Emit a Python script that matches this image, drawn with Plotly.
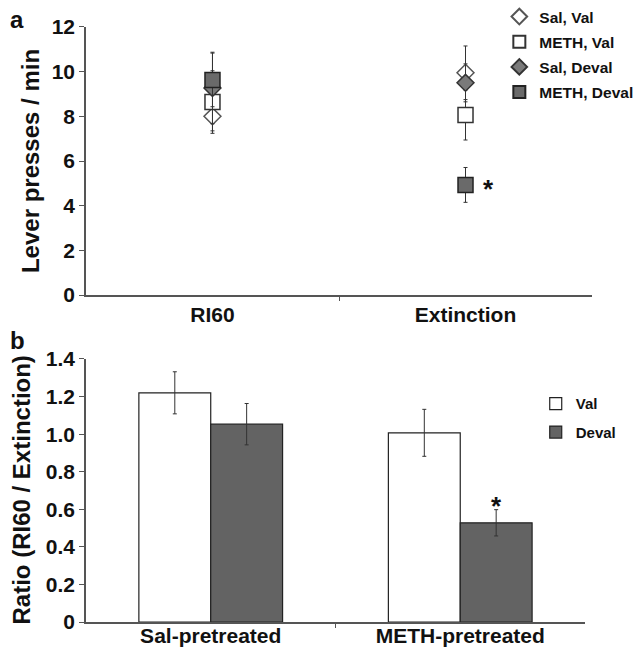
import plotly.graph_objects as go

# ---- Panel a data ----
phases = ["RI60", "Extinction"]
phase_x = [0, 1]
sal_val = [8.0, 9.95]
sal_val_err = [0.65, 1.2]
meth_val = [8.64, 8.06]
meth_val_err = [1.4, 1.12]
sal_deval = [9.27, 9.5]
sal_deval_err = [1.6, 0.85]
meth_deval = [9.63, 4.93]
meth_deval_err = [1.2, 0.78]

# ---- Panel b data ----
groups = ["Sal-pretreated", "METH-pretreated"]
group_x = [0, 1]
ratio_val = [1.22, 1.007]
ratio_val_err = [0.112, 0.125]
ratio_deval = [1.053, 0.528]
ratio_deval_err = [0.11, 0.07]

FONT = "Arial, Liberation Sans, sans-serif"
AXC = "#555555"

fig = go.Figure()

def err(vals):
    return dict(type="data", array=vals, color="#333333", thickness=1, width=2)

series_a = [
    ("Sal, Val", sal_val, sal_val_err, "diamond", 13, "white", "#555555"),
    ("METH, Val", meth_val, meth_val_err, "square", 15, "white", "#333333"),
    ("Sal, Deval", sal_deval, sal_deval_err, "diamond", 13, "#7a7a7a", "#333333"),
    ("METH, Deval", meth_deval, meth_deval_err, "square", 15, "#6a6a6a", "#222222"),
]
for i, (name, vals, e, sym, size, fill, line) in enumerate(series_a):
    fig.add_trace(go.Scatter(
        x=phase_x, y=vals, name=name, mode="markers", legendgroup=f"a{i}",
        marker=dict(symbol=sym, size=size, color=fill, line=dict(color=line, width=1.5)),
        error_y=err(e), xaxis="x", yaxis="y", legend="legend",
    ))

fig.add_trace(go.Bar(
    x=group_x, y=ratio_val, name="Val", legendgroup="v",
    marker=dict(color="white", line=dict(color="#222222", width=1.2)),
    error_y=err(ratio_val_err), xaxis="x2", yaxis="y2", legend="legend2",
))
fig.add_trace(go.Bar(
    x=group_x, y=ratio_deval, name="Deval", legendgroup="d",
    marker=dict(color="#636363", line=dict(color="#222222", width=1.2)),
    error_y=err(ratio_deval_err), xaxis="x2", yaxis="y2", legend="legend2",
))

# asterisks
fig.add_annotation(x=phase_x[1], y=meth_deval[1], xref="x", yref="y", text="<b>*</b>", showarrow=False,
                   xshift=23, yshift=-4, font=dict(size=26, family=FONT, color="#111"))
fig.add_annotation(x=group_x[1] + 0.144, y=ratio_deval[1] + ratio_deval_err[1], xref="x2", yref="y2",
                   text="<b>*</b>", showarrow=False, yshift=4, font=dict(size=26, family=FONT, color="#111"))

# panel letters
fig.add_annotation(x=0.012, y=0.97, xref="paper", yref="paper", text="a", showarrow=False,
                   xanchor="left", yanchor="middle", font=dict(size=24, family=FONT, color="#111", weight="bold"))
fig.add_annotation(x=0.012, y=0.477, xref="paper", yref="paper", text="b", showarrow=False,
                   xanchor="left", yanchor="middle", font=dict(size=24, family=FONT, color="#111", weight="bold"))

tickfont = dict(size=21, family=FONT, color="#111", weight="bold")
catfont = dict(size=21, family=FONT, color="#111", weight="bold")
titlefont = dict(size=24, family=FONT, color="#111", weight="bold")

# panel b y-axis title
fig.add_annotation(x=21 / 634, y=(0.046 + 0.4494) / 2, xref="paper", yref="paper",
                   text="Ratio (RI60 / Extinction)", textangle=-90, showarrow=False,
                   xanchor="center", yanchor="middle", font=titlefont)

fig.update_layout(
    width=634, height=652,
    margin=dict(l=0, r=0, t=0, b=0, autoexpand=False),
    paper_bgcolor="white", plot_bgcolor="white",
    font=dict(family=FONT, color="#111"),
    barmode="group", bargap=0.424, bargroupgap=0,
    xaxis=dict(domain=[0.1356, 0.9338], anchor="y", range=[-0.5, 1.5],
               tickvals=phase_x, ticktext=phases, ticks="", tickfont=catfont,
               showline=True, linecolor=AXC, linewidth=1.5, showgrid=False, zeroline=False,
               minor=dict(tickvals=[0.5], ticks="outside", ticklen=4, tickcolor=AXC)),
    yaxis=dict(domain=[0.5475, 0.9586], anchor="x", range=[0, 12], dtick=2,
               ticks="outside", ticklen=5, tickcolor=AXC, tickfont=tickfont,
               showline=True, linecolor=AXC, linewidth=1.5, showgrid=False, zeroline=False,
               title=dict(text="Lever presses / min", font=titlefont, standoff=5)),
    xaxis2=dict(domain=[0.1356, 0.9227], anchor="y2", range=[-0.5, 1.5],
                tickvals=group_x, ticktext=groups, ticks="", tickfont=catfont,
                ticklabelstandoff=-6,
                showline=True, linecolor=AXC, linewidth=1.5, showgrid=False, zeroline=False,
                minor=dict(tickvals=[0.5], ticks="outside", ticklen=4, tickcolor=AXC)),
    yaxis2=dict(domain=[0.046, 0.4494], anchor="x2", range=[0, 1.4],
                tickvals=[0, 0.2, 0.4, 0.6, 0.8, 1.0, 1.2, 1.4],
                ticktext=["0", "0.2", "0.4", "0.6", "0.8", "1.0", "1.2", "1.4"],
                ticks="outside", ticklen=5, tickcolor=AXC, tickfont=tickfont,
                showline=True, linecolor=AXC, linewidth=1.5, showgrid=False, zeroline=False),
    legend=dict(x=0.7876, y=1.0, xanchor="left", yanchor="top", bgcolor="rgba(0,0,0,0)",
                font=dict(size=15.5, family=FONT, color="#111", weight="bold"), tracegroupgap=2,
                itemwidth=30, itemsizing="constant"),
    legend2=dict(x=0.845, y=0.406, xanchor="left", yanchor="top", bgcolor="rgba(0,0,0,0)",
                 font=dict(size=15, family=FONT, color="#111", weight="bold"), itemwidth=30,
                 tracegroupgap=6),
    showlegend=True,
)

fig.write_html("out.html", config={"displayModeBar": False},
               post_script="document.body.style.margin='0';")
